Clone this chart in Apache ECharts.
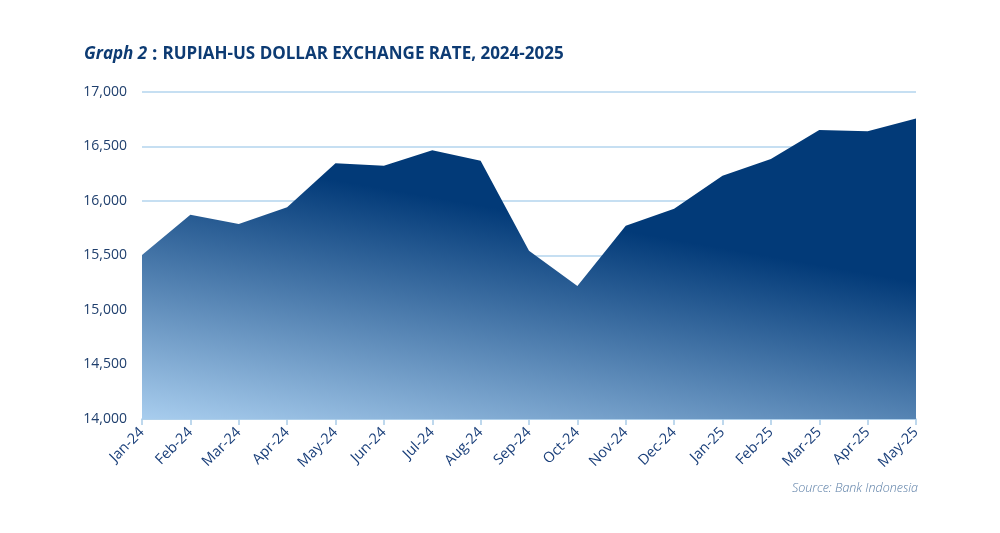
<!DOCTYPE html>
<html>
<head>
<meta charset="utf-8">
<style>
  html, body { margin: 0; padding: 0; background: #ffffff; }
  #chart { width: 1000px; height: 533px; }
</style>
<script src="https://cdn.jsdelivr.net/npm/echarts@6/dist/echarts.min.js"></script>
</head>
<body>
<div id="chart"></div>
<script>
const categories = ["Jan-24","Feb-24","Mar-24","Apr-24","May-24","Jun-24","Jul-24","Aug-24","Sep-24","Oct-24","Nov-24","Dec-24","Jan-25","Feb-25","Mar-25","Apr-25","May-25"];
const rates = [15505, 15873, 15789, 15942, 16346, 16324, 16465, 16370, 15544, 15220, 15774, 15930, 16232, 16385, 16651, 16639, 16758];
const yTicks = [14000, 14500, 15000, 15500, 16000, 16500, 17000];

const chart = echarts.init(document.getElementById('chart'), null, { renderer: 'canvas' });
const fmt = v => v.toLocaleString('en-US');

chart.setOption({
  animation: false,
  backgroundColor: '#ffffff',
  title: {
    left: 79, top: 40,
    text: '{a|Graph 2}{b| : }{c|RUPIAH-US DOLLAR EXCHANGE RATE, 2024-2025}',
    textStyle: {
      rich: {
        a: { fontFamily: 'Open Sans', fontStyle: 'italic', fontWeight: 'bold', fontSize: 17, color: '#0d3b73' },
        b: { fontFamily: 'Open Sans', fontWeight: 'bold', fontSize: 19, color: '#0d3b73' },
        c: { fontFamily: 'Open Sans', fontWeight: 'bold', fontSize: 17, color: '#0d3b73' }
      }
    }
  },
  grid: { left: 142, right: 84, top: 92, bottom: 114, containLabel: false },
  xAxis: {
    type: 'category',
    data: categories,
    boundaryGap: false,
    axisLine: { lineStyle: { color: '#a9cce8', width: 1.5 } },
    axisTick: { show: true, length: 6, lineStyle: { color: '#a9cce8', width: 1.5 } },
    axisLabel: {
      interval: 0, rotate: 45, margin: 11,
      fontFamily: 'Open Sans', fontSize: 14.5, color: '#1a3f7a'
    },
    splitLine: { show: false }
  },
  yAxis: {
    type: 'value',
    min: yTicks[0], max: yTicks[yTicks.length - 1], interval: 500,
    axisLine: { show: false },
    axisTick: { show: false },
    axisLabel: {
      margin: 15, fontFamily: 'Open Sans', fontSize: 14, color: '#1f3f6d',
      formatter: v => fmt(v)
    },
    splitLine: { show: true, lineStyle: { color: '#b3d4ee', width: 1.5 } }
  },
  series: [{
    type: 'line',
    data: rates,
    symbol: 'none',
    lineStyle: { width: 0 },
    areaStyle: {
      opacity: 1,
      color: {
        type: 'linear', x: 0, y: 1, x2: 0.06, y2: 0.12,
        colorStops: [
          { offset: 0, color: '#a8cdee' },
          { offset: 1, color: '#023a78' }
        ]
      }
    }
  }],
  graphic: [{
    type: 'text',
    right: 82, top: 482,
    style: {
      text: 'Source: Bank Indonesia',
      font: 'italic 300 12.5px "Open Sans"',
      fill: '#5b7ea6'
    }
  }]
});
</script>
</body>
</html>
